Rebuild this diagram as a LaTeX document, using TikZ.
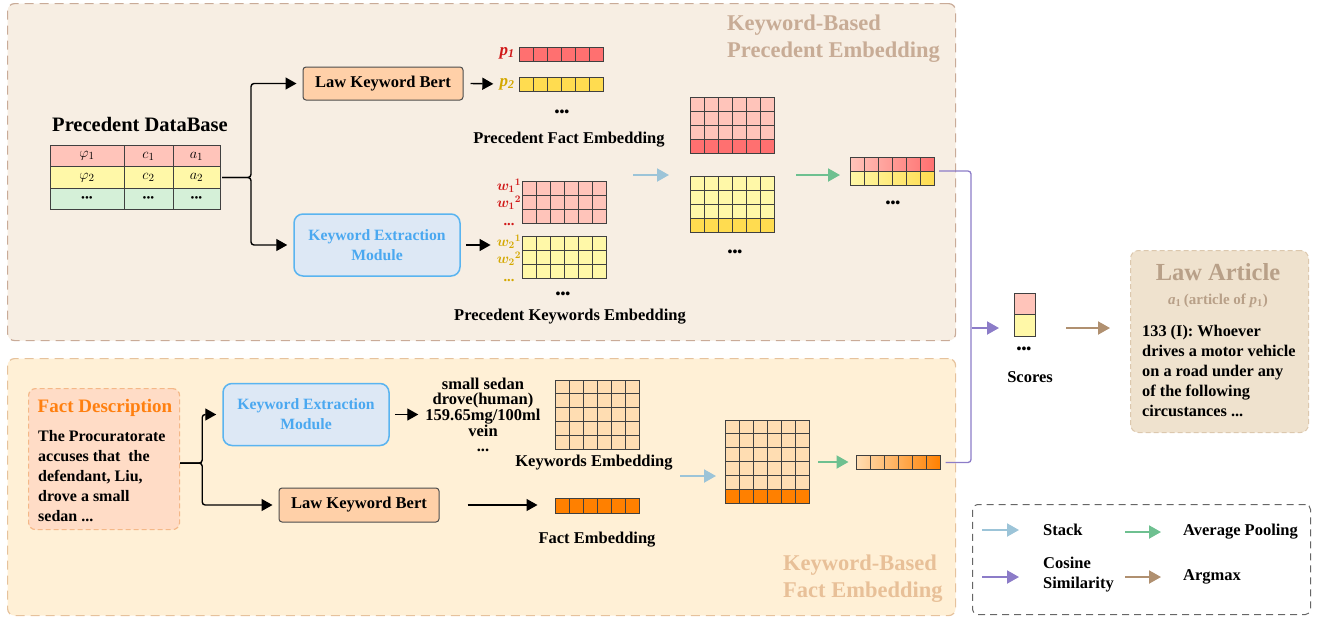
\documentclass[tikz,border=0pt]{standalone}
\usepackage{fontspec}
\setmainfont{Liberation Serif}
\usepackage{xcolor}
\usepackage{tikz}
\usetikzlibrary{calc,positioning,arrows.meta}

\definecolor{topbg}{HTML}{F7EEE3}
\definecolor{topedge}{HTML}{C9AB98}
\definecolor{toptitle}{HTML}{C8AC96}
\definecolor{botbg}{HTML}{FFF0D6}
\definecolor{botedge}{HTML}{E6C29C}
\definecolor{bottitle}{HTML}{E8C098}
\definecolor{peachbox}{HTML}{FFD0A8}
\definecolor{kemfill}{HTML}{DDE8F5}
\definecolor{kemedge}{HTML}{5AB4F0}
\definecolor{kemtext}{HTML}{4AA8F0}
\definecolor{cellpink}{HTML}{FFC4BA}
\definecolor{cellyellow}{HTML}{FFF8A8}
\definecolor{cellgreen}{HTML}{D5F0D8}
\definecolor{cellred}{HTML}{FF7070}
\definecolor{cellgold}{HTML}{FFDC50}
\definecolor{cellpeach}{HTML}{FFDDB2}
\definecolor{cellorange}{HTML}{FF8000}
\definecolor{pred}{HTML}{D01818}
\definecolor{pgold}{HTML}{D4A800}
\definecolor{stackc}{HTML}{9CC4D8}
\definecolor{poolc}{HTML}{6EC090}
\definecolor{cosc}{HTML}{8C7CC8}
\definecolor{argc}{HTML}{B09070}
\definecolor{lawfill}{HTML}{EFE2CE}
\definecolor{lawedge}{HTML}{DCC8AE}
\definecolor{lawtitle}{HTML}{B8A088}
\definecolor{factfill}{HTML}{FFDCC6}
\definecolor{factedge}{HTML}{F4B888}
\definecolor{facttitle}{HTML}{FF8010}

% inner lines of an embedding grid: node, columns, rows
\newcommand{\cellgrid}[3]{%
  \pgfmathtruncatemacro{\lastcol}{#2-1}%
  \pgfmathtruncatemacro{\lastrow}{#3-1}%
  \foreach \k in {1,...,\lastcol}
    \draw[gridline] ($(#1.north west)!\k/#2!(#1.north east)$) -- ($(#1.south west)!\k/#2!(#1.south east)$);
  \ifnum#3>1
  \foreach \k in {1,...,\lastrow}
    \draw[gridline] ($(#1.north west)!\k/#3!(#1.south west)$) -- ($(#1.north east)!\k/#3!(#1.south east)$);
  \fi
}

\begin{document}
\begin{tikzpicture}[x=1pt, y=-1pt,
    panel/.style={rectangle, dash pattern=on 9pt off 6pt, line width=1.2pt, rounded corners=7pt, inner sep=0pt, anchor=north west},
    lkb/.style={rectangle, draw=black!70, fill=peachbox, line width=1pt, rounded corners=3pt, minimum width=160, minimum height=33, font=\fontsize{16.5}{19}\selectfont\bfseries},
    kem/.style={rectangle, draw=kemedge, fill=kemfill, line width=1.5pt, rounded corners=9pt, minimum width=166, minimum height=62, align=center, text=kemtext, font=\fontsize{15.7}{20}\selectfont\bfseries},
    cell/.style={rectangle, draw=black!75, line width=0.8pt, inner sep=0pt, outer sep=0pt, minimum height=21.5, font=\fontsize{15}{17}\selectfont},
    gridbox/.style={rectangle, draw=black!75, line width=0.8pt, inner sep=0pt, outer sep=0pt, minimum width=84},
    gridline/.style={draw=black!75, line width=0.8pt},
    lbl/.style={inner sep=0pt, font=\fontsize{16.5}{19}\selectfont\bfseries},
    dotrow/.style={inner sep=0pt, font=\fontsize{14}{15}\selectfont\bfseries},
    paneltitle/.style={inner sep=0pt, anchor=west, align=left, font=\fontsize{22.5}{27}\selectfont\bfseries},
    wlabel/.style={inner sep=0pt, align=center, font=\boldmath\fontsize{14.5}{17.5}\selectfont\bfseries},
    plabel/.style={inner sep=0pt, font=\fontsize{17}{19}\selectfont\bfseries\itshape},
    arrow/.style={-{Triangle[length=11pt,width=12pt]}, line width=1.4pt, rounded corners=3pt},
    flow/.style={-{Triangle[length=12pt,width=13pt]}, line width=2pt},
    stackarrow/.style={flow, draw=stackc},
    poolarrow/.style={flow, draw=poolc},
    cosarrow/.style={flow, draw=cosc},
    argarrow/.style={flow, draw=argc},
    cosline/.style={draw=cosc, line width=1.3pt, rounded corners=3pt},
    lawbox/.style={rectangle, draw=lawedge, fill=lawfill, dash pattern=on 5pt off 3pt, line width=1pt, rounded corners=8pt, inner sep=0pt, anchor=north west},
    factbox/.style={rectangle, draw=factedge, fill=factfill, dash pattern=on 5pt off 3pt, line width=1.2pt, rounded corners=7pt, inner sep=0pt, anchor=north west},
    legendbox/.style={rectangle, draw=black!60, fill=white, dash pattern=on 7pt off 5pt, line width=1pt, rounded corners=5pt, inner sep=0pt, anchor=north west},
    bodytext/.style={inner sep=0pt, anchor=north west, align=left, font=\fontsize{16}{20}\selectfont\bfseries}]

    \useasboundingbox (0,0) rectangle (1325,619);

    % panels
    \node[panel, draw=topedge, fill=topbg, minimum width=948, minimum height=337] at (7,3) (toppanel) {};
    \node[panel, draw=botedge, fill=botbg, minimum width=948, minimum height=257] at (7,358) (botpanel) {};
    \node[paneltitle, text=toptitle] at (727,38.5) (toptitle) {Keyword-Based\\Precedent Embedding};
    \node[paneltitle, text=bottitle] at (783,579) (bottitle) {Keyword-Based\\Fact Embedding};

    % precedent database
    \node[lbl, font=\fontsize{20.5}{24}\selectfont\bfseries] at (140,124) (dbtitle) {Precedent DataBase};
    \node[cell, fill=cellpink, minimum width=74] at (87,156) (phi1) {$\varphi_1$};
    \node[cell, fill=cellpink, minimum width=49, right=0pt of phi1] (c1) {$c_1$};
    \node[cell, fill=cellpink, minimum width=47, right=0pt of c1] (a1) {$a_1$};
    \node[cell, fill=cellyellow, minimum width=74, below=0pt of phi1] (phi2) {$\varphi_2$};
    \node[cell, fill=cellyellow, minimum width=49, right=0pt of phi2] (c2) {$c_2$};
    \node[cell, fill=cellyellow, minimum width=47, right=0pt of c2] (a2) {$a_2$};
    \node[cell, fill=cellgreen, minimum width=74, below=0pt of phi2, font=\fontsize{11}{12}\selectfont] (phi3) {•••};
    \node[cell, fill=cellgreen, minimum width=49, right=0pt of phi3, font=\fontsize{11}{12}\selectfont] (c3) {•••};
    \node[cell, fill=cellgreen, minimum width=47, right=0pt of c3, font=\fontsize{11}{12}\selectfont] (a3) {•••};

    \node[lkb] at (383,83.5) (lkbtop) {Law Keyword Bert};
    \node[kem] at (377,245) (kemtop) {Keyword Extraction\\Module};

    \draw[arrow, shorten >=6pt] ([xshift=2pt]a2.east) -- ++(29,0) |- (lkbtop.west);
    \draw[arrow, shorten >=6pt] ([xshift=2pt]a2.east) -- ++(29,0) |- (kemtop.west);

    % precedent fact embedding
    \node[plabel, text=pred] at (507,53) (plab1) {p\textsubscript{1}};
    \node[plabel, text=pgold] at (507,84) (plab2) {p\textsubscript{2}};
    \node[gridbox, fill=cellred, minimum height=14] at (561,54) (prow1) {};
    \node[gridbox, fill=cellgold, minimum height=14] at (561,84) (prow2) {};
    \cellgrid{prow1}{6}{1}
    \cellgrid{prow2}{6}{1}
    \draw[arrow, shorten >=6pt] ([xshift=7pt]lkbtop.east) -- (plab2.west);
    \node[dotrow] at (562,113) (pdots) {•••};
    \node[lbl] at (569,140) (pcap) {Precedent Fact Embedding};

    % precedent keywords embedding
    \node[wlabel, text=pred] at (509,202) (wlab1) {$w_1{}^1$\\$w_1{}^2$\\...};
    \node[wlabel, text=pgold] at (509,258) (wlab2) {$w_2{}^1$\\$w_2{}^2$\\...};
    \node[gridbox, fill=cellpink, minimum height=42] at (564,202.5) (wgrid1) {};
    \node[gridbox, fill=cellyellow, minimum height=42] at (564,257.5) (wgrid2) {};
    \cellgrid{wgrid1}{6}{3}
    \cellgrid{wgrid2}{6}{3}
    \draw[arrow, shorten >=6pt] ([xshift=5pt]kemtop.east) -- (wlab2.west |- kemtop.east);
    \node[dotrow] at (563,295) (wdots) {•••};
    \node[lbl] at (570,317) (wcap) {Precedent Keywords Embedding};

    % stacked precedent embeddings
    \coordinate (stk1s) at (633,175);
    \coordinate (stk1e) at (669,175);
    \draw[stackarrow] (stk1s) -- (stk1e);
    \node[gridbox, fill=cellpink, minimum height=42] at (732,118) (spgrid) {};
    \node[gridbox, fill=cellred, minimum height=14, below=0pt of spgrid] (splast) {};
    \node[gridbox, fill=cellyellow, minimum height=42] at (732,197) (sygrid) {};
    \node[gridbox, fill=cellgold, minimum height=14, below=0pt of sygrid] (sylast) {};
    \cellgrid{spgrid}{6}{3}
    \cellgrid{splast}{6}{1}
    \cellgrid{sygrid}{6}{3}
    \cellgrid{sylast}{6}{1}
    \node[dotrow] at (735,253) (sdots) {•••};

    % pooled precedent embeddings
    \node[gridbox, left color=cellpink, right color=cellred, minimum height=14] at (892,164) (pool1) {};
    \node[gridbox, left color=cellyellow, right color=cellgold, minimum height=14, below=0pt of pool1] (pool2) {};
    \cellgrid{pool1}{6}{1}
    \cellgrid{pool2}{6}{1}
    \coordinate (poolts) at (796,175);
    \draw[poolarrow, shorten >=10pt] (poolts) -- (poolts -| pool1.west);
    \node[dotrow] at (893,204) (pooldots) {•••};

    % fact side
    \node[factbox, minimum width=151, minimum height=141] at (28,388) (factbox) {};
    \node[lbl, text=facttitle, font=\fontsize{19}{22}\selectfont\bfseries] at (105,408) (facthead) {Fact Description};
    \node[bodytext] at (38,430.5) (factbody) {The Procuratorate\\accuses that\ \ the\\defendant, Liu,\\drove a small\\sedan ...};

    \node[kem] at (306,414.5) (kembot) {Keyword Extraction\\Module};
    \node[lkb, minimum height=34] at (359,505) (lkbbot) {Law Keyword Bert};
    \draw[arrow, shorten >=6pt] ([yshift=-4pt]factbox.east) -- ++(22,0) |- (kembot.west);
    \draw[arrow, shorten >=6pt] ([yshift=-4pt]factbox.east) -- ++(22,0) |- (lkbbot.west);

    \node[lbl, align=center, font=\fontsize{16.5}{14.6}\selectfont\bfseries] at (483,415) (kwlist) {small sedan\\drove(human)\\159.65mg/100ml\\vein\\...};
    \draw[arrow, shorten >=7pt] ([xshift=5pt]kembot.east) -- (kwlist.west |- kembot.east);
    \node[gridbox, fill=cellpeach, minimum height=69] at (597,414.5) (kgrid) {};
    \cellgrid{kgrid}{6}{5}
    \node[lbl] at (594,463) (kcap) {Keywords Embedding};

    \node[gridbox, fill=cellorange, minimum height=15] at (597.5,505.5) (frow) {};
    \cellgrid{frow}{6}{1}
    \draw[arrow, shorten >=18pt] ([xshift=28pt]lkbbot.east) -- (lkbbot.east -| frow.west);
    \node[lbl] at (597,540) (fcap) {Fact Embedding};

    % stacked fact embeddings
    \coordinate (stk2s) at (680,476);
    \coordinate (stk2e) at (716,476);
    \draw[stackarrow] (stk2s) -- (stk2e);
    \node[gridbox, fill=cellpeach, minimum height=69] at (767,454.5) (sfgrid) {};
    \node[gridbox, fill=cellorange, minimum height=14, below=0pt of sfgrid] (sflast) {};
    \cellgrid{sfgrid}{6}{5}
    \cellgrid{sflast}{6}{1}

    \node[gridbox, left color=cellpeach, right color=cellorange, minimum height=14] at (898.5,462.5) (fpool) {};
    \cellgrid{fpool}{6}{1}
    \coordinate (poolbs) at (818,462);
    \draw[poolarrow, shorten >=8pt] (poolbs) -- (poolbs -| fpool.west);

    % cosine similarity and scores
    \draw[cosline] ([xshift=5pt]pool1.south east) -- ++(32,0) |- ([xshift=5pt]fpool.east);
    \node[cell, fill=cellpink, minimum width=21, minimum height=21] at (1024.5,303.5) (sc1) {};
    \node[cell, fill=cellyellow, minimum width=21, minimum height=22, below=0pt of sc1] (sc2) {};
    \coordinate (cosjoin) at (971.5,328);
    \draw[cosarrow, shorten >=15pt] (cosjoin) -- (cosjoin -| sc2.west);
    \node[dotrow] at (1024,350) (scdots) {•••};
    \node[lbl] at (1030,377) (sccap) {Scores};

    % law article
    \node[lawbox, minimum width=178, minimum height=182] at (1130,250) (lawbox) {};
    \draw[argarrow, shorten <=31pt, shorten >=20pt] ([yshift=-3pt]sc2.east) -- ([yshift=-3pt]sc2.east -| lawbox.west);
    \node[lbl, text=lawtitle, font=\fontsize{24.5}{28}\selectfont\bfseries] at (1218,272) (lawhead) {Law Article};
    \node[lbl, text=lawtitle, font=\fontsize{15}{18}\selectfont\bfseries] at (1218,301) (lawsub) {\textit{a}\textsubscript{1}\,(article of \textit{p}\textsubscript{1})};
    \node[bodytext, font=\fontsize{16.3}{20}\selectfont\bfseries] at (1142,324.5) (lawbody) {133 (I): Whoever\\drives a motor vehicle\\on a road under any\\of the following\\circustances ...};

    % legend
    \node[legendbox, minimum width=338, minimum height=110] at (972,504) (legend) {};
    \node[lbl, anchor=west] at (1043,530) (lstack) {Stack};
    \node[lbl, anchor=west, align=left, font=\fontsize{16.5}{20}\selectfont\bfseries] at (1043,575) (lcos) {Cosine\\Similarity};
    \node[lbl, anchor=west] at (1183,532) (lpool) {Average Pooling};
    \node[lbl, anchor=west] at (1183,577) (larg) {Argmax};
    \draw[stackarrow] ([xshift=-61pt]lstack.west) -- ([xshift=-24pt]lstack.west);
    \draw[cosarrow] ([xshift=-61pt,yshift=-2pt]lcos.west) -- ([xshift=-24pt,yshift=-2pt]lcos.west);
    \draw[poolarrow] ([xshift=-58pt]lpool.west) -- ([xshift=-22pt]lpool.west);
    \draw[argarrow] ([xshift=-58pt]larg.west) -- ([xshift=-22pt]larg.west);
\end{tikzpicture}
\end{document}
